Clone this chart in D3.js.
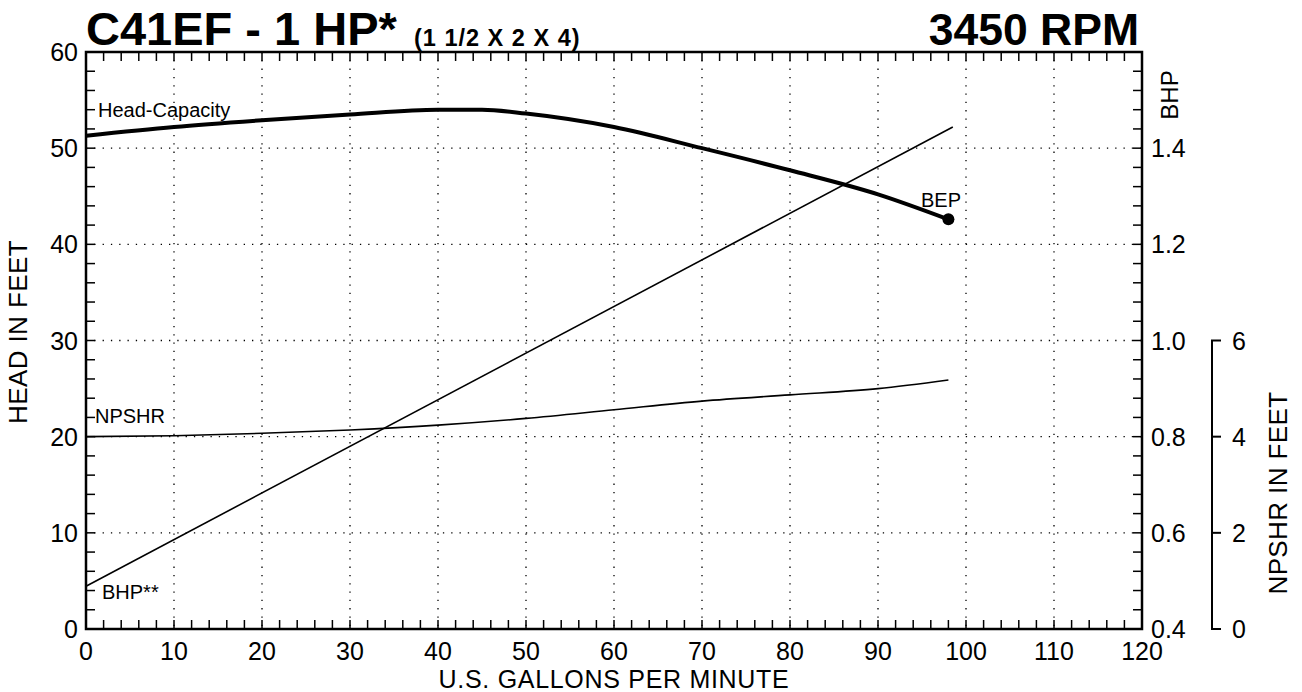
<!DOCTYPE html>
<html><head><meta charset="utf-8">
<script src="https://cdn.jsdelivr.net/npm/d3@7"></script>
<style>body{margin:0;background:#fff}svg{display:block;font-family:"Liberation Sans",Arial,Helvetica,sans-serif}</style>
</head><body><svg id="c" width="1302" height="692"></svg>
<script>
const headFlow = [0,10,20,30,40,45,50,60,70,80,90,98];
const headFt   = [51.3,52.2,52.9,53.5,54.0,54.0,53.6,52.2,50.0,47.7,45.2,42.6];
const npshFlow = [0,10,20,30,40,50,60,70,80,90,98];
const npshFt   = [4.0,4.02,4.07,4.14,4.24,4.38,4.56,4.74,4.87,5.0,5.18];
const bhpFlow  = [0,98.5];
const bhpVal   = [0.489,1.444];
const bep = {flow:98, head:42.6};
const xTicks = [0,10,20,30,40,50,60,70,80,90,100,110,120];
const headTicks = [0,10,20,30,40,50,60];
const bhpTicks = [0.4,0.6,0.8,1.0,1.2,1.4];
const npshTicks = [0,2,4,6];

const svg = d3.select("#c");
const L=86,R=1142,T=52,B=629;
const x = d3.scaleLinear().domain([0,120]).range([L,R]);
const y = d3.scaleLinear().domain([0,60]).range([B,T]);
const yB = d3.scaleLinear().domain([0.4,1.6]).range([B,T]);
const yNp = d3.scaleLinear().domain([0,6]).range([B,y(30)]);

// grid
const g = svg.append("g");
xTicks.filter(d=>d>0&&d<120).forEach(d=>g.append("line").attr("x1",x(d)).attr("x2",x(d)).attr("y1",T).attr("y2",B)
  .attr("stroke","#000").attr("stroke-width",1.3).attr("stroke-dasharray","1.3,7"));
headTicks.filter(d=>d>0&&d<60).forEach(d=>g.append("line").attr("x1",L).attr("x2",R).attr("y1",y(d)).attr("y2",y(d))
  .attr("stroke","#000").attr("stroke-width",1.3).attr("stroke-dasharray","1.3,7"));

// minor ticks
const minX = d3.range(0,121,2), minY = d3.range(0,61,2);
minX.forEach(d=>{
  g.append("line").attr("x1",x(d)).attr("x2",x(d)).attr("y1",B).attr("y2",B-9).attr("stroke","#000").attr("stroke-width",1.5);
  g.append("line").attr("x1",x(d)).attr("x2",x(d)).attr("y1",T).attr("y2",T+9).attr("stroke","#000").attr("stroke-width",1.5);
});
minY.forEach(d=>{
  g.append("line").attr("x1",L).attr("x2",L+9).attr("y1",y(d)).attr("y2",y(d)).attr("stroke","#000").attr("stroke-width",1.5);
  g.append("line").attr("x1",R).attr("x2",R-9).attr("y1",y(d)).attr("y2",y(d)).attr("stroke","#000").attr("stroke-width",1.5);
});
// frame
svg.append("rect").attr("x",L).attr("y",T).attr("width",R-L).attr("height",B-T).attr("fill","none").attr("stroke","#000").attr("stroke-width",2.5);

// tick labels
const fs = 25;
xTicks.forEach(d=>svg.append("text").attr("x",x(d)).attr("y",660).attr("text-anchor","middle").attr("font-size",fs).text(d));
headTicks.forEach(d=>svg.append("text").attr("x",78).attr("y",y(d)+9).attr("text-anchor","end").attr("font-size",fs).text(d));
bhpTicks.forEach(d=>svg.append("text").attr("x",1151).attr("y",yB(d)+9).attr("font-size",fs).text(d.toFixed(1)));

// NPSHR axis
svg.append("line").attr("x1",1212).attr("x2",1212).attr("y1",yNp(0)).attr("y2",yNp(6)).attr("stroke","#000").attr("stroke-width",2);
npshTicks.forEach(d=>{
  svg.append("line").attr("x1",1211).attr("x2",1221).attr("y1",yNp(d)).attr("y2",yNp(d)).attr("stroke","#000").attr("stroke-width",2);
  svg.append("text").attr("x",1232).attr("y",yNp(d)+9).attr("font-size",fs).text(d);
});

// axis titles
svg.append("text").attr("transform","translate(614,688)").attr("text-anchor","middle").attr("font-size",25).attr("letter-spacing",0.7).text("U.S. GALLONS PER MINUTE");
svg.append("text").attr("transform","translate(27,332) rotate(-90)").attr("text-anchor","middle").attr("font-size",26).attr("letter-spacing",0.4).text("HEAD IN FEET");
svg.append("text").attr("transform","translate(1178,95) rotate(-90)").attr("text-anchor","middle").attr("font-size",24).text("BHP");
svg.append("text").attr("transform","translate(1287,493) rotate(-90)").attr("text-anchor","middle").attr("font-size",26).attr("letter-spacing",0.4).text("NPSHR IN FEET");

// titles
svg.append("text").attr("x",86).attr("y",45).attr("font-size",47).attr("font-weight","bold").text("C41EF - 1 HP*");
svg.append("text").attr("x",414).attr("y",46).attr("font-size",23.5).attr("font-weight","bold").attr("letter-spacing",1).text("(1 1/2 X 2 X 4)");
svg.append("text").attr("x",1139).attr("y",45).attr("text-anchor","end").attr("font-size",44.5).attr("font-weight","bold").text("3450 RPM");

// curves
const line = d3.line().curve(d3.curveMonotoneX);
svg.append("path").attr("d",line(headFlow.map((f,i)=>[x(f),y(headFt[i])]))).attr("fill","none").attr("stroke","#000").attr("stroke-width",4);
svg.append("path").attr("d",line(npshFlow.map((f,i)=>[x(f),yNp(npshFt[i])]))).attr("fill","none").attr("stroke","#000").attr("stroke-width",1.6);
svg.append("path").attr("d",d3.line()(bhpFlow.map((f,i)=>[x(f),yB(bhpVal[i])]))).attr("fill","none").attr("stroke","#000").attr("stroke-width",1.6);
svg.append("circle").attr("cx",x(bep.flow)).attr("cy",y(bep.head)).attr("r",6).attr("fill","#000");

// curve labels
svg.append("text").attr("x",98).attr("y",117).attr("font-size",20).text("Head-Capacity");
svg.append("text").attr("x",95).attr("y",423).attr("font-size",20).text("NPSHR");
svg.append("text").attr("x",102).attr("y",599).attr("font-size",20).text("BHP**");
svg.append("text").attr("x",921).attr("y",207).attr("font-size",20).text("BEP");
</script></body></html>
